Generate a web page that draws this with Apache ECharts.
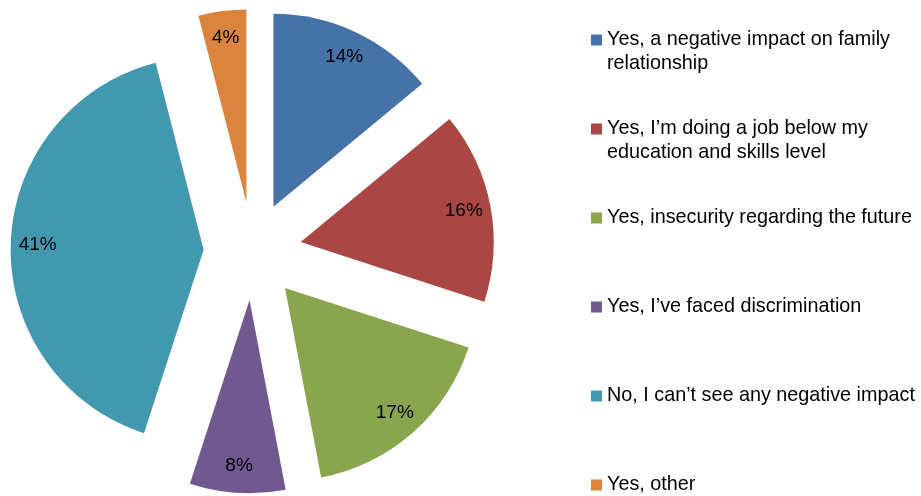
<!DOCTYPE html>
<html>
<head>
<meta charset="utf-8">
<script src="https://cdn.jsdelivr.net/npm/echarts@6/dist/echarts.min.js"></script>
<style>
  html, body { margin: 0; padding: 0; background: #fff; }
  #chart { width: 921px; height: 496px; }
</style>
</head>
<body>
<div id="chart"></div>
<script>
// answers, clockwise from 12 o'clock
var categories = [
  'Yes, a negative impact on family relationship',
  'Yes, I’m doing a job below my education and skills level',
  'Yes, insecurity regarding the future',
  'Yes, I’ve faced discrimination',
  'No, I can’t see any negative impact',
  'Yes, other'
];
var shares = [14, 16, 17, 8, 41, 4];
var colors = ['#4572A7', '#AA4643', '#89A54E', '#71588F', '#4198AF', '#DB843D'];
// legend entries that wrap onto a second line
var wrapped = [true, true, false, false, false, false];

var CENTER = [252.6, 251.2];
var RADIUS = 193;
var EXPLODE = 49;
var lineH = 23.5;

var myChart = echarts.init(document.getElementById('chart'));

var common = {
  type: 'pie',
  center: CENTER,
  startAngle: 90,
  clockwise: true,
  selectedMode: 'multiple',
  selectedOffset: EXPLODE,
  avoidLabelOverlap: false,
  emphasis: { disabled: true },
  labelLine: { show: false }
};

var option = {
  animation: false,
  legend: {
    orient: 'vertical',
    left: 591,
    top: 4.75,
    height: 600,
    padding: 0,
    itemWidth: 11,
    itemHeight: 11,
    itemGap: 18.5,
    icon: 'rect',
    selectedMode: false,
    // Excel keeps the marker level with the first line: an empty first line
    // puts the first real line in the middle of a wrapped entry
    formatter: function (name) {
      return wrapped[categories.indexOf(name)] ? '\n' + name : name;
    },
    textStyle: {
      fontFamily: 'Liberation Sans',
      fontSize: 19.8,
      color: '#000',
      lineHeight: lineH,
      width: 325,
      overflow: 'break'
    },
    data: categories.map(function (name, i) {
      return {
        name: name,
        itemStyle: { color: colors[i] },
        textStyle: { padding: wrapped[i] ? 0 : [lineH, 0, lineH, 0] }
      };
    })
  },
  series: [
    // the slices
    Object.assign({}, common, {
      radius: RADIUS,
      itemStyle: { borderWidth: 0 },
      label: { show: false },
      data: categories.map(function (name, i) {
        return { name: name, value: shares[i], selected: true, itemStyle: { color: colors[i] } };
      })
    }),
    // invisible ring that carries the percentage labels near the outer edge
    Object.assign({}, common, {
      radius: [133, RADIUS],
      silent: true,
      itemStyle: { color: 'rgba(0,0,0,0)', borderWidth: 0 },
      label: {
        position: 'inside',
        formatter: '{c}%',
        color: '#000',
        fontFamily: 'Liberation Sans',
        fontSize: 19
      },
      data: categories.map(function (name, i) {
        return { name: name, value: shares[i], selected: true };
      })
    })
  ]
};

myChart.setOption(option);
</script>
</body>
</html>
